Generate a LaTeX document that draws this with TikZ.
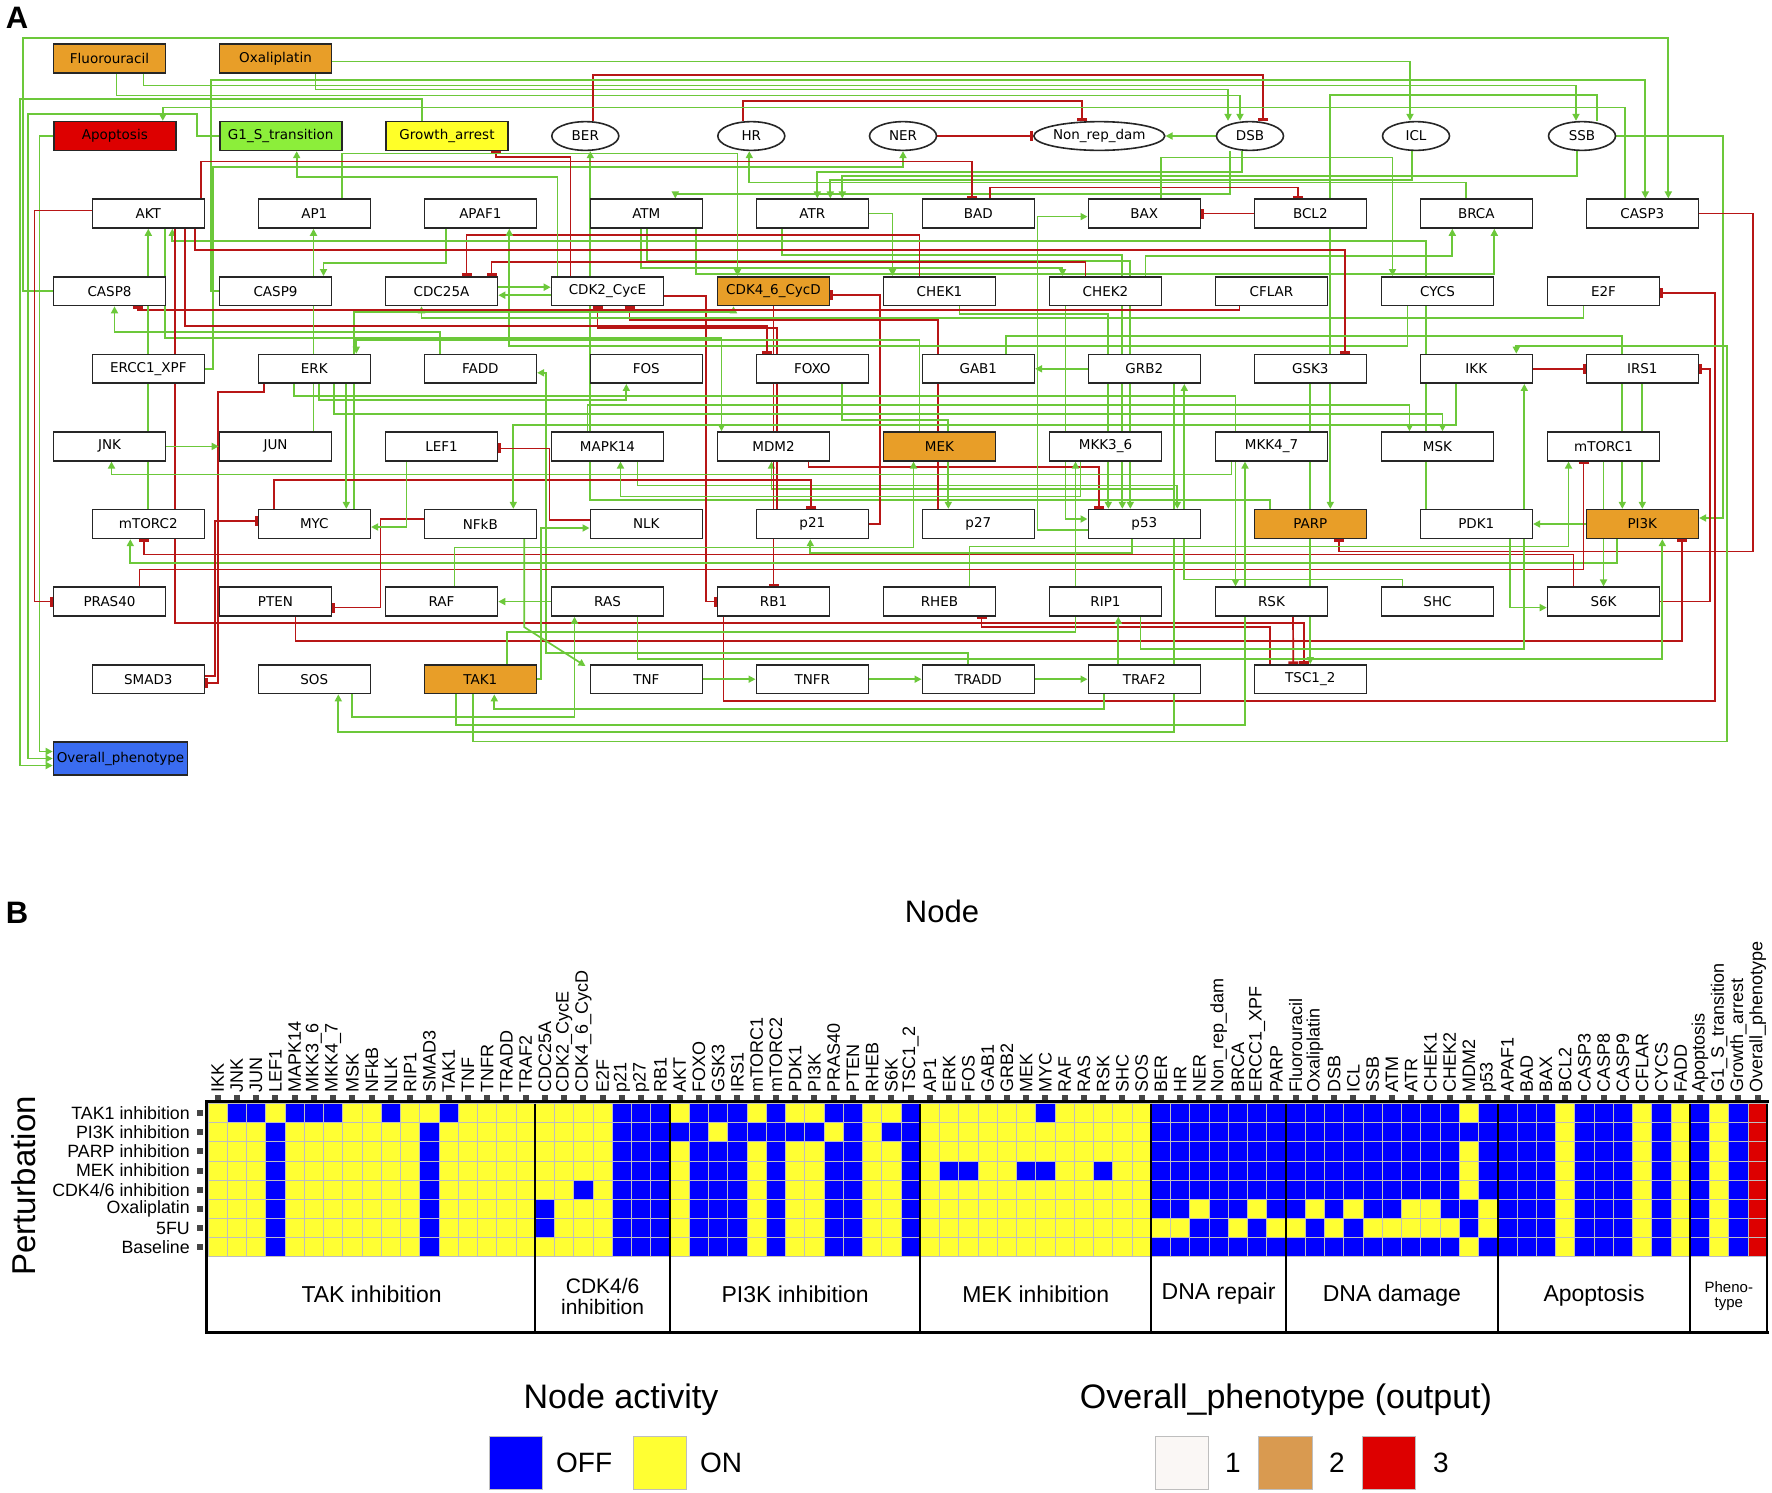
\documentclass[tikz,border=0pt]{standalone}
\usepackage{fontspec}
\setmainfont{Liberation Sans}
\newfontfamily\netfont{DejaVu Sans}
\usetikzlibrary{arrows.meta,shapes.geometric}
\definecolor{actgreen}{RGB}{108,200,58}
\definecolor{inhred}{RGB}{184,22,22}
\definecolor{drugorange}{RGB}{232,158,40}
\definecolor{apored}{RGB}{221,0,0}
\definecolor{gonegreen}{RGB}{140,238,58}
\definecolor{arrestyellow}{RGB}{255,255,40}
\definecolor{phenoblue}{RGB}{58,108,240}
\definecolor{hm0}{RGB}{0,0,255}
\definecolor{hm1}{RGB}{255,255,51}
\definecolor{hm3}{RGB}{221,0,0}
\definecolor{gridgray}{RGB}{190,190,190}
\definecolor{tickgray}{RGB}{70,70,70}
\definecolor{legone}{RGB}{250,247,245}
\definecolor{legtwo}{RGB}{217,154,80}
\newcommand{\netsize}{\netfont\fontsize{13.5}{15}\selectfont}
\pgfdeclarelayer{edges}
\pgfsetlayers{edges,main}
\tikzset{
  gene/.style={draw=black!85, line width=1.6pt, fill=white, minimum width=112pt,
    minimum height=28.7pt, inner sep=0pt, font=\netsize},
  pheno/.style={gene, minimum width=122pt},
  damage/.style={ellipse, draw=black!85, line width=1.6pt, fill=white, minimum width=67pt,
    minimum height=28.7pt, inner sep=0pt, font=\netsize},
  act/.style={draw=actgreen, line width=1.7pt, -{Triangle[length=7pt,width=7pt]}},
  inh/.style={draw=inhred, line width=1.7pt, -{Bar[width=10pt,line width=2.6pt]}},
  collabel/.style={rotate=90, anchor=west, inner sep=0pt, font=\fontsize{18}{18}\selectfont},
  rowlabel/.style={anchor=east, inner sep=0pt, font=\fontsize{17.8}{18}\selectfont},
  grouplabel/.style={align=center, font=\fontsize{23}{20}\selectfont},
  legtitle/.style={font=\fontsize{34}{36}\selectfont},
  legtext/.style={anchor=west, inner sep=0pt, font=\fontsize{28}{30}\selectfont}
}
\begin{document}
\begin{tikzpicture}[x=1pt, y=-1pt]
  \useasboundingbox (0,0) rectangle (1772,1492);

  \node[font=\bfseries\fontsize{31}{31}\selectfont] at (17,18) {A};
  \node[font=\bfseries\fontsize{31}{31}\selectfont] at (17,913) {B};

  % network nodes
  \node[gene, fill=drugorange] (Flu) at (109.5,58.4) {Fluorouracil};
  \node[gene, fill=drugorange] (Oxa) at (275.5,58.4) {Oxaliplatin};
  \node[pheno, fill=apored] (Apoptosis) at (114.8,136) {Apoptosis};
  \node[pheno, fill=gonegreen] (G1S) at (280.7,136) {G1\_S\_transition};
  \node[pheno, fill=arrestyellow] (GrowthArrest) at (447,136) {Growth\_arrest};
  \foreach \nm/\x in {BER/585.3,HR/751.3,NER/903,DSB/1250,ICL/1416,SSB/1582}
    \node[damage] (\nm) at (\x,136) {\nm};
  \node[damage, minimum width=123pt] (NonRep) at (1099.3,136) {Non\_rep\_dam};

  \foreach \nm/\lb/\fc [count=\i from 0] in {AKT/AKT/white,AP1/AP1/white,APAF1/APAF1/white,ATM/ATM/white,ATR/ATR/white,BAD/BAD/white,BAX/BAX/white,BCL2/BCL2/white,BRCA/BRCA/white,CASP3/CASP3/white}
    \node[gene, fill=\fc] (\nm) at ({148.3+166*\i},213.6) {\lb};
  \foreach \nm/\lb/\fc [count=\i from 0] in {CASP8/CASP8/white,CASP9/CASP9/white,CDC25A/CDC25A/white,CDK2CycE/CDK2\_CycE/white,CDK46CycD/CDK4\_6\_CycD/drugorange,CHEK1/CHEK1/white,CHEK2/CHEK2/white,CFLAR/CFLAR/white,CYCS/CYCS/white,E2F/E2F/white}
    \node[gene, fill=\fc] (\nm) at ({109.5+166*\i},291.2) {\lb};
  \foreach \nm/\lb/\fc [count=\i from 0] in {ERCC1XPF/ERCC1\_XPF/white,ERK/ERK/white,FADD/FADD/white,FOS/FOS/white,FOXO/FOXO/white,GAB1/GAB1/white,GRB2/GRB2/white,GSK3/GSK3/white,IKK/IKK/white,IRS1/IRS1/white}
    \node[gene, fill=\fc] (\nm) at ({148.3+166*\i},368.8) {\lb};
  \foreach \nm/\lb/\fc [count=\i from 0] in {JNK/JNK/white,JUN/JUN/white,LEF1/LEF1/white,MAPK14/MAPK14/white,MDM2/MDM2/white,MEK/MEK/drugorange,MKK36/MKK3\_6/white,MKK47/MKK4\_7/white,MSK/MSK/white,mTORC1/mTORC1/white}
    \node[gene, fill=\fc] (\nm) at ({109.5+166*\i},446.4) {\lb};
  \foreach \nm/\lb/\fc [count=\i from 0] in {mTORC2/mTORC2/white,MYC/MYC/white,NFkB/NFkB/white,NLK/NLK/white,p21/p21/white,p27/p27/white,p53/p53/white,PARP/PARP/drugorange,PDK1/PDK1/white,PI3K/PI3K/drugorange}
    \node[gene, fill=\fc] (\nm) at ({148.3+166*\i},524) {\lb};
  \foreach \nm/\lb/\fc [count=\i from 0] in {PRAS40/PRAS40/white,PTEN/PTEN/white,RAF/RAF/white,RAS/RAS/white,RB1/RB1/white,RHEB/RHEB/white,RIP1/RIP1/white,RSK/RSK/white,SHC/SHC/white,S6K/S6K/white}
    \node[gene, fill=\fc] (\nm) at ({109.5+166*\i},601.6) {\lb};
  \foreach \nm/\lb/\fc [count=\i from 0] in {SMAD3/SMAD3/white,SOS/SOS/white,TAK1/TAK1/drugorange,TNF/TNF/white,TNFR/TNFR/white,TRADD/TRADD/white,TRAF2/TRAF2/white,TSC12/TSC1\_2/white}
    \node[gene, fill=\fc] (\nm) at ({148.3+166*\i},679.2) {\lb};
  \node[gene, fill=phenoblue, minimum width=134pt, minimum height=33pt] (Overall) at (120.5,758.5) {Overall\_phenotype};

  \begin{pgfonlayer}{edges}
  \draw[act] ([xshift=7pt]Flu.south) -- ++(0,22) -| ([xshift=-10pt]DSB.north);
  \draw[act] ([xshift=34pt]Flu.south) -- ++(0,12) -| ([xshift=-6pt]SSB.north);
  \draw[act] ([yshift=-3pt]Oxa.east) -| ([xshift=-6pt]ICL.north);
  \draw[act] ([xshift=40pt]Oxa.south) -- ++(0,16) -| ([xshift=-22pt]DSB.north);
  \draw[inh] ([xshift=8pt]BER.north) -- ++(0,-46) -| ([xshift=13pt]DSB.north);
  \draw[inh] ([xshift=-8pt]HR.north) -- ++(0,-20) -| ([xshift=-17pt]NonRep.north);
  \draw[inh] (NER.east) -- (NonRep.west);
  \draw[act] (DSB.west) -- (NonRep.east);
  \draw[act] (CASP8.west) -- ++(-30,0) -- ++(0,-253) -| ([xshift=26pt]CASP3.north);
  \draw[act] (CASP9.west) -- ++(-8,0) -- ++(0,-211) -| ([xshift=3pt]CASP3.north);
  \draw[act] ([xshift=-17pt]CASP3.north) -- ++(0,-91) -| ([xshift=48pt]Apoptosis.north);
  \draw[act] (Apoptosis.west) -- ++(-13.6,0) |- ([yshift=7pt]Overall.west);
  \draw[act] (G1S.west) -- ++(-22,0) -- ++(0,-22) -- ++(-168.6,0) |- (Overall.west);
  \draw[act] ([xshift=-25pt]GrowthArrest.north) -- ++(0,-22) -- ++(-402,0) |- ([yshift=-7pt]Overall.west);
  \draw[act] (SSB.east) -- ++(107,0) |- ([yshift=6pt]PI3K.east);
  \draw[act] ([xshift=15pt]SSB.north) -- ++(0,-26) -| ([xshift=20pt]PARP.north);

  \draw[act] ([xshift=-5pt]SSB.south) -- ++(0,25) -| ([xshift=30pt]ATR.north);
  \draw[act] ([xshift=-4pt]ICL.south) -- ++(0,29) -| ([xshift=18pt]ATR.north);
  \draw[act] ([xshift=-8pt]DSB.south) -- ++(0,21) -| ([xshift=5pt]ATR.north);
  \draw[act] ([xshift=-20pt]DSB.south) -- ++(0,43) -| ([xshift=29pt]ATM.north);
  \draw[act] ([xshift=-10pt]BRCA.north) -- ++(0,-16) -| ([xshift=-2pt]HR.south);
  \draw[act] (ERCC1XPF.east) -- ++(8,0) -- ++(0,-202) -| (NER.south);
  \draw[act] ([xshift=-40pt]PARP.north) -- ++(0,-8.7) -| ([xshift=5pt]BER.south);
  \draw[act] ([xshift=-5pt]ATM.south) -- ++(0,39.5) -| ([xshift=-43pt]CHEK2.north);
  \draw[act] ([xshift=1pt]ATM.south) -- ++(0,32) -| ([xshift=-14pt]p53.north);
  \draw[act] ([xshift=50pt]ATM.south) -- ++(0,45) -| ([xshift=18pt]BRCA.south);
  \draw[act] (ATR.east) -| ([xshift=-47pt]CHEK1.north);
  \draw[act] ([xshift=-30pt]ATR.south) -- ++(0,26) -| ([xshift=-22pt]p53.north);
  \draw[act] ([xshift=40pt]CHEK2.north) -- ++(0,-20) -| ([xshift=-24pt]BRCA.south);
  \draw[inh] ([xshift=-20pt]CHEK1.north) -- ++(0,-41) -| ([xshift=25pt]CDC25A.north);
  \draw[inh] ([xshift=-20pt]CHEK2.north) -- ++(0,-14) -| ([xshift=50pt]CDC25A.north);
  \draw[act] ([xshift=-40pt]CHEK2.south) |- ([yshift=5pt]p53.west);
  \draw[act] ([xshift=20pt]CHEK1.south) -- ++(0,7.5) -| ([xshift=-36pt]p53.north);
  \draw[inh] ([xshift=35pt]MDM2.south) -- ++(0,5.3) -| ([xshift=-45pt]p53.north);
  \draw[act] ([xshift=30pt]p53.north) -- ++(0,-20) -| ([xshift=-2pt]MDM2.south);
  \draw[act] ([xshift=-12pt]p53.south) -- ++(0,14) -| ([xshift=-2pt]p21.south);
  \draw[act] ([yshift=-6pt]p53.west) -- ++(-50,0) |- ([yshift=-3pt]BAX.west);
  \draw[act] ([xshift=30pt]MAPK14.south) -- ++(0,24) -| ([xshift=33pt]p53.north);

  \draw[inh] ([xshift=-40pt]p27.north) -- ++(0,-188.7) -| ([xshift=22pt]CDK2CycE.south);
  \draw[inh] ([xshift=-35pt]p21.north) -- ++(0,-180.7) -| ([xshift=-10pt]CDK2CycE.south);
  \draw[inh] (p21.east) -- ++(11,0) |- ([yshift=-4pt]CDK46CycD.east);
  \draw[inh] (CDK46CycD.south) -- (RB1.north);
  \draw[inh] ([yshift=-5pt]CDK2CycE.east) -- ++(42,0) |- (RB1.west);
  \draw[inh] ([xshift=-50pt]RB1.south) -- ++(0,84) -- ++(991.5,0) |- ([yshift=-2pt]E2F.east);
  \draw[act] ([xshift=-20pt]E2F.south) -- ++(0,11.5) -| ([xshift=-20pt]CDC25A.south);
  \draw[act] ([yshift=4pt]CDC25A.east) -- ([yshift=4pt]CDK2CycE.west);
  \draw[act] ([yshift=-4pt]CDK2CycE.west) -- ([yshift=-4pt]CDC25A.east);
  \draw[act] ([xshift=40pt]MYC.north) -- ++(0,-196.7) -| ([xshift=-40pt]CDK46CycD.south);
  \draw[inh] ([xshift=-40pt]MYC.north) -- ++(0,-29) -| ([xshift=-1pt]p21.north);
  \draw[inh] ([xshift=-37pt]CDK2CycE.north) -- ++(0,-119) -| ([xshift=49pt]GrowthArrest.south);
  \draw[act] ([xshift=-50pt]CDK2CycE.north) -- ++(0,-99) -| ([xshift=16pt]G1S.south);
  \draw[act] ([xshift=28pt]AP1.north) -- ++(0,-45) -| ([xshift=-36pt]CDK46CycD.north);
  \draw[act] ([xshift=30pt]FOXO.south) -- ++(0,36) -| ([xshift=-30pt]p27.north);

  \draw[inh] (BCL2.west) -- (BAX.east);
  \draw[inh] ([xshift=12pt]BAD.north) -- ++(0,-11) -| ([xshift=-12pt]BCL2.north);
  \draw[inh] ([xshift=53pt]AKT.north) -- ++(0,-37) -| ([xshift=-6pt]BAD.north);
  \draw[act] ([xshift=17pt]BAX.north) -- ++(0,-41) -| ([xshift=-45pt]CYCS.north);
  \draw[act] ([xshift=-30pt]CYCS.south) -- ++(0,39.5) -| ([xshift=29pt]APAF1.south);
  \draw[act] ([xshift=-34pt]APAF1.south) -- ++(0,34) -| ([xshift=48pt]CASP9.north);
  \draw[act] ([xshift=-40pt]FADD.north) -- ++(0,-21.5) -| ([xshift=5pt]CASP8.south);
  \draw[inh] ([xshift=-32pt]CFLAR.south) -- ++(0,3.5) -| ([xshift=28pt]CASP8.south);
  \draw[inh] (CASP3.east) -- ++(54,0) -- ++(0,338) -| ([xshift=29pt]PARP.south);
  \draw[act] ([xshift=-10pt]TRADD.north) -- ++(0,-11) -- ++(-422.3,0) |- ([yshift=-4pt]FADD.east);

  \draw[act] (mTORC2.north) -- (AKT.south);
  \draw[act] ([xshift=-50pt]PDK1.north) -- ++(0,-268) -| ([xshift=24pt]AKT.south);
  \draw[inh] ([yshift=3pt]AKT.west) -- ++(-57,0) |- (PRAS40.west);
  \draw[inh] ([xshift=47pt]AKT.south) -- ++(0,21) -| ([xshift=35pt]GSK3.north);
  \draw[inh] ([xshift=37pt]AKT.south) -- ++(0,97) -| ([xshift=-45pt]FOXO.north);
  \draw[act] ([xshift=17pt]AKT.south) -- ++(0,109) -| ([xshift=-52pt]MDM2.north);
  \draw[inh] ([xshift=27pt]AKT.south) -- ++(0,394) -| ([xshift=-6pt]TSC12.north);
  \draw[act] (PI3K.west) -- (PDK1.east);
  \draw[act] ([xshift=-25pt]PI3K.south) -- ++(0,24) -| ([xshift=-18pt]mTORC2.south);
  \draw[inh] ([xshift=-30pt]S6K.north) -- ++(0,-32) -| ([xshift=-4pt]mTORC2.south);
  \draw[act] ([xshift=34pt]PDK1.south) |- ([yshift=-6pt]S6K.west);
  \draw[act] (mTORC1.south) -- (S6K.north);
  \draw[act] (IRS1.south) -- (PI3K.north);
  \draw[inh] (S6K.east) -- ++(50,0) |- (IRS1.east);
  \draw[act] ([xshift=30pt]RHEB.north) -- ++(0,-40) -| ([xshift=-35pt]mTORC1.south);
  \draw[inh] ([xshift=-40pt]TSC12.north) -- ++(0,-37) -| ([xshift=42pt]RHEB.south);
  \draw[inh] ([xshift=30pt]PRAS40.north) -- ++(0,-17) -| ([xshift=-20pt]mTORC1.south);
  \draw[inh] ([xshift=20pt]PTEN.south) -- ++(0,24) -| ([xshift=40pt]PI3K.south);
  \draw[act] ([xshift=30pt]RAS.south) -- ++(0,42) -| ([xshift=20pt]PI3K.south);
  \draw[act] (GSK3.south) -- (TSC12.north);
  \draw[inh] ([xshift=21.5pt]RSK.south) -- ([xshift=-17pt]TSC12.north);
  \draw[inh] (IKK.east) -- (IRS1.west);
  \draw[act] ([xshift=28pt]GAB1.north) -- ++(0,-17.5) -| ([xshift=-20pt]PI3K.north);

  \draw[act] ([xshift=32pt]ERK.south) -- ([xshift=32pt]MYC.north);
  \draw[act] ([xshift=-20pt]MEK.north) -- ++(0,-91) -| ([xshift=42pt]ERK.north);
  \draw[act] ([xshift=-20pt]ERK.south) -- ++(0,12) -| ([xshift=-36pt]RSK.north);
  \draw[act] ([xshift=5pt]ERK.south) -- ++(0,16) -| ([xshift=-20pt]FOS.south);
  \draw[act] ([xshift=20pt]ERK.south) -- ++(0,30) -| ([xshift=5pt]MSK.north);
  \draw[inh] ([xshift=-50pt]ERK.south) -- ++(0,8) -- ++(-46.6,0) |- ([yshift=-4pt]SMAD3.east);
  \draw[act] ([xshift=38pt]JUN.north) -- ([xshift=-0.8pt]AP1.south);
  \draw[act] (JNK.east) -- (JUN.west);
  \draw[act] ([xshift=-40pt]MKK47.south) -- ++(0,13) -| ([xshift=2pt]JNK.south);
  \draw[act] ([xshift=-25pt]MKK36.south) -- ++(0,35) -| ([xshift=13pt]MAPK14.south);
  \draw[act] ([xshift=-20pt]MAPK14.north) -- ++(0,-26) -| ([xshift=-28pt]MSK.north);
  \draw[act] ([xshift=27pt]TAK1.north) -- ++(0,-32) -| ([xshift=-30pt]MKK36.south);
  \draw[act] ([xshift=-24pt]TAK1.south) -- ++(0,30.5) -| ([xshift=-26.5pt]MKK47.south);
  \draw[act] ([xshift=-7pt]TAK1.south) -- ++(0,47) -- ++(1254,0) -- ++(0,-395.5) -| ([xshift=40pt]IKK.north);
  \draw[act] ([xshift=-20pt]IKK.south) -- ++(0,41) -| ([xshift=33pt]NFkB.north);
  \draw[act] ([xshift=44pt]NFkB.south) -- ++(0,88) -- ([xshift=-4pt,yshift=-2pt]TNF.north west);
  \draw[act] (TNF.east) -- (TNFR.west);
  \draw[act] (TNFR.east) -- (TRADD.west);
  \draw[act] (TRADD.east) -- (TRAF2.west);
  \draw[act] ([xshift=-26pt]TRAF2.north) -- ([xshift=12.8pt]RIP1.south);
  \draw[act] ([xshift=-40pt]TRAF2.south) -- ++(0,14.5) -| ([xshift=14pt]TAK1.south);
  \draw[act] ([xshift=35pt]RIP1.south) -- ++(0,32) -| ([xshift=48pt]IKK.south);
  \draw[inh] ([yshift=5pt]NFkB.west) -- ++(-43,0) |- ([yshift=-6pt]PTEN.east);
  \draw[act] ([xshift=-35pt]LEF1.south) |- ([yshift=-3pt]MYC.east);
  \draw[inh] ([yshift=4pt]NLK.west) -- ++(-40,0) |- ([yshift=-2pt]LEF1.east);
  \draw[act] (TAK1.east) -- ++(4,0) |- ([yshift=-4pt]NLK.west);
  \draw[inh] ([yshift=3pt]SMAD3.east) -- ++(10,0) |- ([yshift=3pt]MYC.west);
  \draw[act] ([xshift=30pt]GRB2.south) -- ++(0,348) -| ([xshift=24pt]SOS.south);
  \draw[act] ([xshift=38pt]SOS.south) -- ++(0,22.5) -| ([xshift=-33pt]RAS.south);
  \draw[act] (RAS.west) -- (RAF.east);
  \draw[act] ([xshift=13pt]RAF.north) -- ++(0,-39) -| ([xshift=-26pt]MEK.south);
  \draw[act] ([xshift=-35pt]SHC.north) -- ++(0,-7) -| ([xshift=40pt]GRB2.south);
  \draw[act] (GRB2.west) -- (GAB1.east);
  \end{pgfonlayer}

  % heatmap
  \node[font=\fontsize{31}{31}\selectfont] at (942,911) {Node};
  \node[rotate=90, font=\fontsize{33}{33}\selectfont] at (24,1186) {Perturbation};
  \foreach \lb [count=\c from 0] in {IKK,JNK,JUN,LEF1,MAPK14,MKK3\_6,MKK4\_7,MSK,NFkB,NLK,RIP1,SMAD3,TAK1,TNF,TNFR,TRADD,TRAF2,CDC25A,CDK2\_CycE,CDK4\_6\_CycD,E2F,p21,p27,RB1,AKT,FOXO,GSK3,IRS1,mTORC1,mTORC2,PDK1,PI3K,PRAS40,PTEN,RHEB,S6K,TSC1\_2,AP1,ERK,FOS,GAB1,GRB2,MEK,MYC,RAF,RAS,RSK,SHC,SOS,BER,HR,NER,Non\_rep\_dam,BRCA,ERCC1\_XPF,PARP,Fluorouracil,Oxaliplatin,DSB,ICL,SSB,ATM,ATR,CHEK1,CHEK2,MDM2,p53,APAF1,BAD,BAX,BCL2,CASP3,CASP8,CASP9,CFLAR,CYCS,FADD,Apoptosis,G1\_S\_transition,Growth\_arrest,Overall\_phenotype}
  {
    \node[collabel] at ({208+19.25*(\c+0.5)},1093) {\lb};
    \fill[tickgray] ({208+19.25*(\c+0.5)-3},1095) rectangle ++(6,6);
  }
  \foreach \lb [count=\r from 0] in {TAK1 inhibition,PI3K inhibition,PARP inhibition,MEK inhibition,CDK4/6 inhibition,Oxaliplatin,5FU,Baseline}
  {
    \node[rowlabel] at (190,{1103.5+19.15*(\r+0.5)}) {\lb};
    \fill[tickgray] (197,{1103.5+19.15*(\r+0.5)-3}) rectangle ++(6,6);
  }
  \foreach \rowvals [count=\r from 0] in {
    {1,0,0,1,0,0,0,1,1,0,1,1,0,1,1,1,1,1,1,1,1,0,0,0,1,0,0,0,1,0,1,1,0,0,1,1,0,1,1,1,1,1,1,0,1,1,1,1,1,0,0,0,0,0,0,0,0,0,0,0,0,0,0,0,0,1,0,0,0,0,1,0,0,0,1,0,1,0,1,0,3},
    {1,1,1,0,1,1,1,1,1,1,1,0,1,1,1,1,1,1,1,1,1,0,0,0,0,0,1,0,0,0,0,0,1,0,1,0,0,1,1,1,1,1,1,1,1,1,1,1,1,0,0,0,0,0,0,0,0,0,0,0,0,0,0,0,0,0,0,0,0,0,1,0,0,0,1,0,1,0,1,0,3},
    {1,1,1,0,1,1,1,1,1,1,1,0,1,1,1,1,1,1,1,1,1,0,0,0,1,0,0,0,1,0,1,1,0,0,1,1,0,1,1,1,1,1,1,1,1,1,1,1,1,0,0,0,0,0,0,0,0,0,0,0,0,0,0,0,0,1,0,0,0,0,1,0,0,0,1,0,1,0,1,0,3},
    {1,1,1,0,1,1,1,1,1,1,1,0,1,1,1,1,1,1,1,1,1,0,0,0,1,0,0,0,1,0,1,1,0,0,1,1,0,1,0,0,1,1,0,0,1,1,0,1,1,0,0,0,0,0,0,0,0,0,0,0,0,0,0,0,0,1,0,0,0,0,1,0,0,0,1,0,1,0,1,0,3},
    {1,1,1,0,1,1,1,1,1,1,1,0,1,1,1,1,1,1,1,0,1,0,0,0,1,0,0,0,1,0,1,1,0,0,1,1,0,1,1,1,1,1,1,1,1,1,1,1,1,0,0,0,0,0,0,0,0,0,0,0,0,0,0,0,0,1,0,0,0,0,1,0,0,0,1,0,1,0,1,0,3},
    {1,1,1,0,1,1,1,1,1,1,1,0,1,1,1,1,1,0,1,1,1,0,0,0,1,0,0,0,1,0,1,1,0,0,1,1,0,1,1,1,1,1,1,1,1,1,1,1,1,0,0,1,0,0,1,0,0,1,0,1,0,0,1,1,0,0,1,0,0,0,1,0,0,0,1,0,1,0,1,0,3},
    {1,1,1,0,1,1,1,1,1,1,1,0,1,1,1,1,1,0,1,1,1,0,0,0,1,0,0,0,1,0,1,1,0,0,1,1,0,1,1,1,1,1,1,1,1,1,1,1,1,1,1,0,0,1,0,1,1,0,1,0,1,1,1,1,1,0,1,0,0,0,1,0,0,0,1,0,1,0,1,0,3},
    {1,1,1,0,1,1,1,1,1,1,1,0,1,1,1,1,1,1,1,1,1,0,0,0,1,0,0,0,1,0,1,1,0,0,1,1,0,1,1,1,1,1,1,1,1,1,1,1,1,0,0,0,0,0,0,0,0,0,0,0,0,0,0,0,0,1,0,0,0,0,1,0,0,0,1,0,1,0,1,0,3}}
  {
    \foreach \v [count=\c from 0] in \rowvals
      \filldraw[fill=hm\v, draw=gridgray, line width=0.8pt] ({208+19.25*\c},{1103.5+19.15*\r}) rectangle ++(19.25,19.15);
  }
  \draw[line width=3.5pt] (206,1101.5) -- (1768.5,1101.5);
  \draw[line width=3.5pt] (206.5,1100) -- (206.5,1333);
  \foreach \g in {17,24,37,49,56,67,77,81}
    \draw[line width=1.8pt] ({208+19.25*\g},1103.5) -- ++(0,228.5);
  \draw[line width=3pt] (205,1332) -- (1768.5,1332);

  \node[grouplabel] at (371.6,1294) {TAK inhibition};
  \node[grouplabel, font=\fontsize{21}{21}\selectfont] at (602.6,1296) {CDK4/6\\inhibition};
  \node[grouplabel] at (795.1,1294) {PI3K inhibition};
  \node[grouplabel] at (1035.8,1294) {MEK inhibition};
  \node[grouplabel] at (1218.6,1294) {DNA repair};
  \node[grouplabel] at (1391.9,1296) {DNA damage};
  \node[grouplabel] at (1594,1296) {Apoptosis};
  \node[grouplabel, font=\fontsize{15}{15}\selectfont] at (1728.8,1296) {Pheno-\\type};

  % legends
  \node[legtitle] at (621,1400) {Node activity};
  \node[legtitle] at (1286,1400) {Overall\_phenotype (output)};
  \filldraw[fill=hm0, draw=gridgray] (489,1436) rectangle (542,1489);
  \node[legtext] at (556,1463) {OFF};
  \filldraw[fill=hm1, draw=gridgray] (633,1436) rectangle (686,1489);
  \node[legtext] at (700,1463) {ON};
  \filldraw[fill=legone, draw=gridgray] (1155,1436) rectangle (1208,1489);
  \node[legtext] at (1225,1463) {1};
  \filldraw[fill=legtwo, draw=gridgray] (1258,1436) rectangle (1312,1489);
  \node[legtext] at (1329,1463) {2};
  \filldraw[fill=hm3, draw=gridgray] (1362,1436) rectangle (1415,1489);
  \node[legtext] at (1433,1463) {3};
\end{tikzpicture}
\end{document}
